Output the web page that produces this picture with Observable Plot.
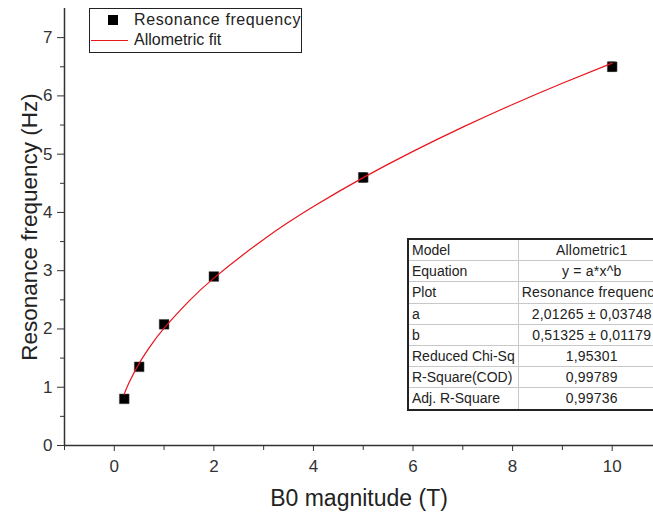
<!DOCTYPE html>
<html><head><meta charset="utf-8">
<script src="https://cdn.jsdelivr.net/npm/d3@7"></script>
<script src="https://cdn.jsdelivr.net/npm/@observablehq/plot@0.6"></script>
<style>
body{margin:0;background:#fff;font-family:"Liberation Sans",Arial,sans-serif;}
#wrap{position:relative;width:653px;height:519px;overflow:hidden;}
#legend{position:absolute;left:89px;top:8px;width:211px;height:43px;border:1px solid #222;background:#fff;font-size:16px;color:#222;}
#legend .row{position:absolute;left:0;height:20px;line-height:20px;white-space:nowrap;}
#tbl{position:absolute;left:407px;top:238px;border-collapse:collapse;font-size:14px;color:#222;background:#fff;border:2px solid #222;table-layout:fixed;}
#tbl td{border:1px solid #c8c8c8;height:20px;padding:0 3px;white-space:nowrap;overflow:hidden;line-height:20.2px;}
#tbl td.v{text-align:center;letter-spacing:0.2px;}
</style></head>
<body><div id="wrap"></div>
<script>
const bField = [0.2, 0.5, 1, 2, 5, 10];
const freq = [0.8, 1.35, 2.08, 2.9, 4.6, 6.5];
const freqErr = [0.03, 0.03, 0.03, 0.04, 0.08, 0.08];
const fitX = [0.2, 0.3, 0.5, 0.7, 1, 1.5, 2, 3, 4, 5, 6, 7, 8, 9, 10];
const fitY = [0.881, 1.085, 1.410, 1.676, 2.013, 2.478, 2.873, 3.537, 4.100, 4.597, 5.048, 5.464, 5.852, 6.216, 6.562];
const xMajor = [0, 2, 4, 6, 8, 10];
const xMinor = [-1, 1, 3, 5, 7, 9];
const yMajor = [0, 1, 2, 3, 4, 5, 6, 7];
const yMinor = [0.5, 1.5, 2.5, 3.5, 4.5, 5.5, 6.5];
const tableLabels = ["Model", "Equation", "Plot", "a", "b", "Reduced Chi-Sq", "R-Square(COD)", "Adj. R-Square"];
const tableValues = ["Allometric1", "y = a*x^b", "Resonance frequency", "2,01265 ± 0,03748", "0,51325 ± 0,01179", "1,95301", "0,99789", "0,99736"];
const legendLabels = ["Resonance frequency", "Allometric fit"];

const pts = bField.map((x, i) => ({x, y: freq[i], e: freqErr[i]}));
const fit = fitX.map((x, i) => ({x, y: fitY[i]}));
const ink = "#333";
const capHalf = 0.08;

const chart = Plot.plot({
  width: 653, height: 519,
  marginLeft: 64, marginRight: 0, marginTop: 8, marginBottom: 74,
  style: {fontFamily: "'Liberation Sans', Arial, sans-serif", color: ink, background: "white"},
  x: {type: "linear", domain: [-1, 10.83]},
  y: {type: "linear", domain: [0, 7.5]},
  marks: [
    Plot.axisX({ticks: xMajor, tickSize: 6, tickPadding: 8, fontSize: 17, label: null, stroke: ink}),
    Plot.axisX({ticks: xMinor, tickSize: 5, text: null, label: null, stroke: ink}),
    Plot.axisY({ticks: yMajor, tickSize: 7, tickPadding: 5, fontSize: 17, label: null, stroke: ink}),
    Plot.axisY({ticks: yMinor, tickSize: 4, text: null, label: null, stroke: ink}),
    Plot.ruleY([0], {stroke: ink, strokeWidth: 1.5}),
    Plot.ruleX([-1], {stroke: ink, strokeWidth: 1.5}),
    Plot.text(["B0 magnitude (T)"], {frameAnchor: "bottom", dy: 60, fontSize: 23, fill: "#222", textAnchor: "middle"}),
    Plot.text(["Resonance frequency (Hz)"], {frameAnchor: "left", dx: -35, rotate: -90, fontSize: 22.5, fill: "#222", textAnchor: "middle"}),
    Plot.ruleX(pts, {x: "x", y1: d => d.y - d.e, y2: d => d.y + d.e, stroke: "#111", strokeWidth: 1}),
    Plot.ruleY(pts, {x1: d => d.x - capHalf, x2: d => d.x + capHalf, y: d => d.y + d.e, stroke: "#111", strokeWidth: 1}),
    Plot.ruleY(pts, {x1: d => d.x - capHalf, x2: d => d.x + capHalf, y: d => d.y - d.e, stroke: "#111", strokeWidth: 1}),
    Plot.dot(pts, {x: "x", y: "y", symbol: "square", r: 5.5, fill: "#000", stroke: "#555", strokeWidth: 0.5}),
    Plot.line(fit, {x: "x", y: "y", stroke: "#e8141c", strokeWidth: 1.2, curve: "natural"})
  ]
});
const wrap = document.getElementById("wrap");
wrap.appendChild(chart);

const lg = document.createElement("div");
lg.id = "legend";
lg.innerHTML =
  `<div class="row" style="top:1px;width:100%"><span style="position:absolute;left:18px;top:5px;width:10px;height:10px;background:#000"></span><span style="position:absolute;left:44px;letter-spacing:0.6px">${legendLabels[0]}</span></div>` +
  `<div class="row" style="top:21px;width:100%"><span style="position:absolute;left:1px;top:10px;width:37px;height:1.2px;background:#e8141c"></span><span style="position:absolute;left:44px">${legendLabels[1]}</span></div>`;
wrap.appendChild(lg);

const t = document.createElement("table");
t.id = "tbl";
t.innerHTML = `<colgroup><col style="width:112px"><col style="width:140px"></colgroup>` +
  tableLabels.map((l, i) => `<tr><td>${l}</td><td class="v">${tableValues[i]}</td></tr>`).join("");
wrap.appendChild(t);
</script></body></html>
